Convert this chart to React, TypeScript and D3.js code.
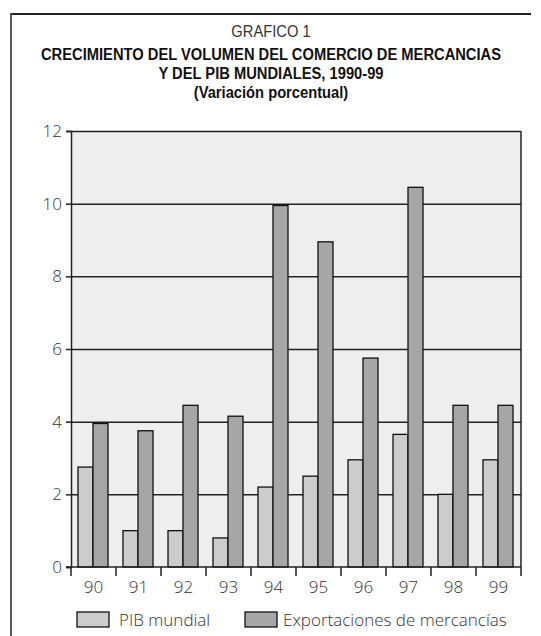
import React, { useEffect, useRef } from 'react'
import * as d3 from 'd3'

const years = ['90', '91', '92', '93', '94', '95', '96', '97', '98', '99']
const pibMundial = [2.75, 1.0, 1.0, 0.8, 2.2, 2.5, 2.95, 3.65, 2.0, 2.95]
const exportaciones = [3.95, 3.75, 4.45, 4.15, 9.95, 8.95, 5.75, 10.45, 4.45, 4.45]
const yTicks = [0, 2, 4, 6, 8, 10, 12]
const seriesNames = ['PIB mundial', 'Exportaciones de mercancías']
const seriesColors = ['#cccccc', '#a6a6a6']
const titleLines = [
  'GRAFICO 1',
  'CRECIMIENTO DEL VOLUMEN DEL COMERCIO DE MERCANCIAS',
  'Y DEL PIB MUNDIALES, 1990-99',
  '(Variación porcentual)',
]

const W = 541
const H = 636
const FONT = '"Open Sans", "Liberation Sans", sans-serif'
const TITLE_FONT = '"Liberation Sans", Arial, sans-serif'

const App: React.FC = () => {
  const svgRef = useRef<SVGSVGElement>(null)

  useEffect(() => {
    if (!svgRef.current) return
    const svg = d3.select(svgRef.current)
    svg.selectAll('*').remove()

    const margin = { top: 131, right: 20, bottom: 69, left: 71 }
    const width = W - margin.left - margin.right
    const height = H - margin.top - margin.bottom

    // outer frame (top and left only)
    svg.append('line')
      .attr('x1', 11).attr('x2', 531).attr('y1', 14).attr('y2', 14)
      .attr('stroke', '#222').attr('stroke-width', 2)
    svg.append('line')
      .attr('x1', 11).attr('x2', 11).attr('y1', 13).attr('y2', H)
      .attr('stroke', '#555').attr('stroke-width', 2)

    // title, squeezed horizontally to mimic the narrow face
    const titleY = [37, 60, 79, 98]
    titleLines.forEach((t, i) => {
      svg.append('g')
        .attr('transform', `translate(271,${titleY[i]}) scale(0.92,1)`)
        .append('text')
        .attr('x', 0)
        .attr('y', 0)
        .attr('text-anchor', 'middle')
        .attr('font-family', TITLE_FONT)
        .attr('font-size', 16)
        .attr('font-weight', i === 0 ? 'normal' : 'bold')
        .attr('fill', i === 0 ? '#333' : '#111')
        .text(t)
    })

    const g = svg.append('g').attr('transform', `translate(${margin.left},${margin.top})`)

    const x = d3.scaleBand().domain(years).range([0, width]).padding(0)
    const xs = d3.scaleBand().domain(seriesNames).range([7, 37]).padding(0)
    const y = d3.scaleLinear().domain([0, 12]).range([height, 0])

    // plot background
    g.append('rect')
      .attr('x', 0).attr('y', 0).attr('width', width).attr('height', height)
      .attr('fill', '#eeeeee')

    // grid lines
    g.append('g')
      .call(d3.axisLeft(y).tickValues(yTicks.filter(v => v > 0)).tickSize(-width).tickFormat(() => ''))
      .call(sel => sel.select('.domain').remove())
      .selectAll('line')
      .attr('stroke', '#222')
      .attr('stroke-width', 1.5)

    // right border
    g.append('line')
      .attr('x1', width).attr('x2', width).attr('y1', 0).attr('y2', height)
      .attr('stroke', '#222').attr('stroke-width', 1.5)

    // bars
    const series = [pibMundial, exportaciones]
    series.forEach((vals, si) => {
      g.append('g')
        .selectAll('rect')
        .data(vals)
        .join('rect')
        .attr('x', (_, i) => (x(years[i]) || 0) + (xs(seriesNames[si]) || 0))
        .attr('y', d => y(d))
        .attr('width', xs.bandwidth())
        .attr('height', d => height - y(d))
        .attr('fill', seriesColors[si])
        .attr('stroke', '#111')
        .attr('stroke-width', 1.3)
    })

    // y axis
    const yAx = g.append('g')
      .call(d3.axisLeft(y).tickValues(yTicks).tickSize(5).tickPadding(4).tickFormat(d3.format('d')))
    yAx.select('.domain').attr('stroke', '#222').attr('stroke-width', 1.5)
    yAx.selectAll('line').attr('stroke', '#222').attr('stroke-width', 1.5)
    yAx.selectAll('text')
      .attr('font-family', FONT)
      .attr('font-size', 17)
      .attr('font-weight', 300)
      .attr('fill', '#333')

    // x axis: ticks at category boundaries
    g.append('line')
      .attr('x1', -5).attr('x2', width).attr('y1', height).attr('y2', height)
      .attr('stroke', '#222').attr('stroke-width', 1.5)
    const boundaries = years.map(yr => x(yr) || 0).concat([width])
    g.append('g')
      .selectAll('line')
      .data(boundaries)
      .join('line')
      .attr('x1', d => d).attr('x2', d => d)
      .attr('y1', height).attr('y2', height + 9)
      .attr('stroke', '#222').attr('stroke-width', 1.5)
    g.append('g')
      .selectAll('text')
      .data(years)
      .join('text')
      .attr('x', d => (x(d) || 0) + x.bandwidth() / 2)
      .attr('y', height + 26)
      .attr('text-anchor', 'middle')
      .attr('font-family', FONT)
      .attr('font-size', 17)
      .attr('font-weight', 300)
      .attr('fill', '#333')
      .text(d => d)

    // legend
    const legendX = [77, 245]
    seriesNames.forEach((name, i) => {
      svg.append('rect')
        .attr('x', legendX[i]).attr('y', 612)
        .attr('width', 32).attr('height', 15)
        .attr('fill', seriesColors[i])
        .attr('stroke', '#111').attr('stroke-width', 1.3)
      svg.append('text')
        .attr('x', legendX[i] + 42 - (i === 1 ? 4 : 0))
        .attr('y', 626)
        .attr('font-family', FONT)
        .attr('font-size', 17)
        .attr('font-weight', 300)
        .attr('fill', '#333')
        .text(name)
    })
  }, [])

  return (
    <div style={{ position: 'absolute', left: 0, top: 0 }}>
      <svg ref={svgRef} width={W} height={H} style={{ display: 'block', background: '#fff' }} />
    </div>
  )
}

export default App
